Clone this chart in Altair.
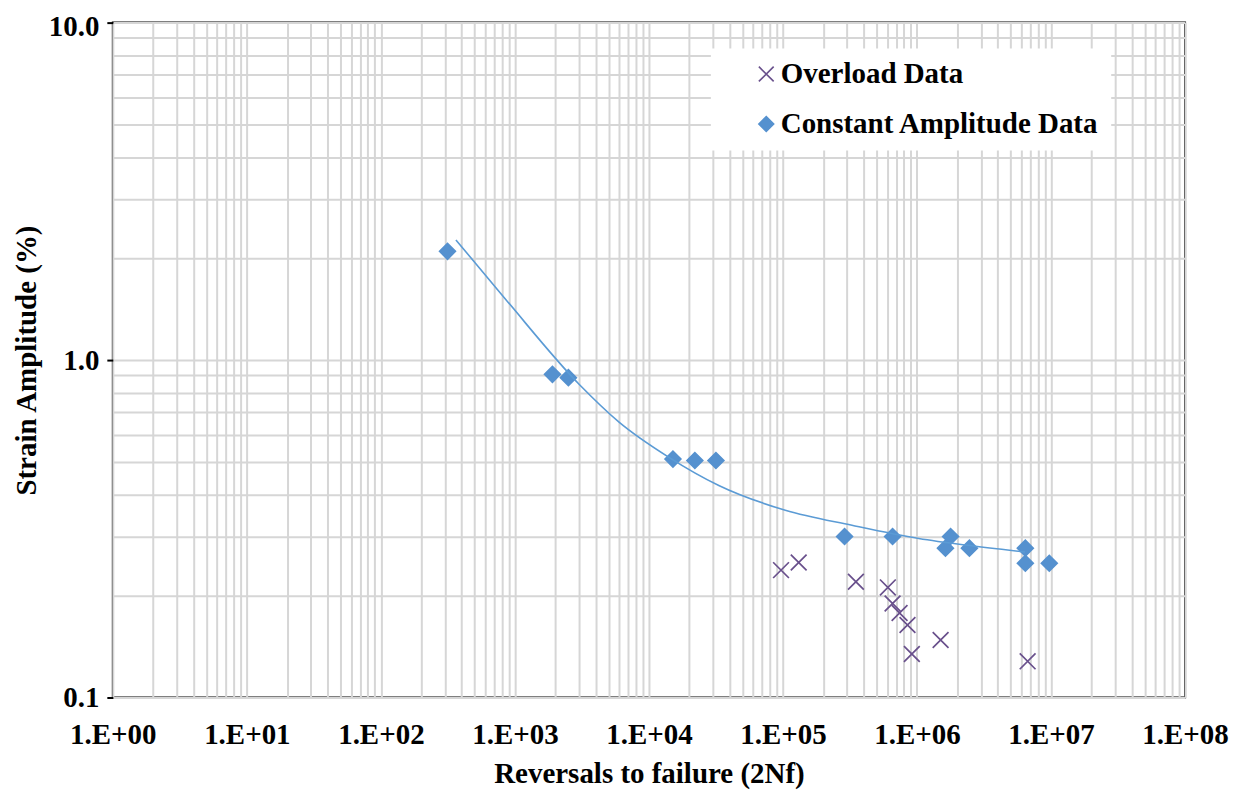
import altair as alt
import pandas as pd

# ---- data ----
ca_x = [314, 1905, 2506, 15100, 22000, 31600, 288000, 657000, 1780000,
        1630000, 2460000, 6430000, 6430000, 9700000]
ca_y = [2.10, 0.907, 0.887, 0.509, 0.504, 0.504, 0.300, 0.300, 0.300,
        0.277, 0.277, 0.277, 0.250, 0.250]

ol_x = [96700, 131000, 350000, 606000, 657000, 741000, 849000, 1500000,
        915000, 6690000]
ol_y = [0.2385, 0.2513, 0.2203, 0.212, 0.190, 0.178, 0.164, 0.148,
        0.1345, 0.128]

fit_x = [363, 857, 3010, 5980, 14100, 33200, 104000, 327000, 1030000,
         2290000, 6400000]
fit_y = [2.27, 1.51, 0.848, 0.655, 0.515, 0.425, 0.359, 0.324, 0.296,
         0.283, 0.270]

series_names = ["Overload Data", "Constant Amplitude Data"]
series_colors = ["#69508c", "#5591cf"]
series_shapes = ["M-1,-1L1,1M-1,1L1,-1", "diamond"]

mantissas = [1, 2, 3, 4, 5, 6, 7, 8, 9]
x_exponents = [0, 1, 2, 3, 4, 5, 6, 7]
y_exponents = [-1, 0]
x_grid = [m * 10 ** e for e in x_exponents for m in mantissas] + [10 ** 8]
y_grid = [round(m * 10.0 ** e, 3) for e in y_exponents for m in mantissas] + [10.0]

# ---- tables ----
pts = pd.DataFrame({
    "x": ol_x + ca_x,
    "y": ol_y + ca_y,
    "series": [series_names[0]] * len(ol_x) + [series_names[1]] * len(ca_x),
})
fit = pd.DataFrame({"x": fit_x, "y": fit_y})

FONT = "Liberation Serif"
FS = 29
major_test = "abs(log(datum.value)/LN10 - round(log(datum.value)/LN10)) < 0.001"

x_axis = alt.Axis(
    values=x_grid,
    labelExpr=f"{major_test} ? '1.E+' + (round(log(datum.value)/LN10) < 10 ? '0' : '') + round(log(datum.value)/LN10) : ''",
    ticks=False,
    labelPadding=23,
    labelOverlap=False,
    labelFlush=False,
    labelBound=False,
    domain=False,
    titleX=537,
    titleY=85,
    titleAlign="center",
    titleBaseline="alphabetic",
)
y_axis = alt.Axis(
    values=y_grid,
    labelExpr=f"{major_test} ? format(datum.value, '.1f') : ''",
    labelOffset={"condition": {"test": "datum.value > 9.5", "value": 4}, "value": 0},
    tickSize=6,
    tickColor="#000000",
    tickWidth=2,
    tickOpacity={"condition": {"test": major_test, "value": 1}, "value": 0},
    labelPadding=8,
    labelOverlap=False,
    labelFlush=False,
    labelBound=False,
    domain=False,
    titleX=-86,
    titleY=338,
    titleAngle=-90,
    titleAlign="center",
    titleBaseline="middle",
)

xs = alt.Scale(type="log", domain=[1, 1e8], nice=False)
ys = alt.Scale(type="log", domain=[0.1, 10], nice=False)

X = alt.X("x:Q", scale=xs, axis=x_axis, title="Reversals to failure (2Nf)")
Y = alt.Y("y:Q", scale=ys, axis=y_axis, title="Strain Amplitude (%)")

leg = alt.Legend(
    title=None,
    orient="none",
    legendX=599,
    legendY=26,
    fillColor="#ffffff",
    padding=11,
    symbolOffset=30,
    symbolSize=220,
    symbolStrokeWidth=1.6,
    labelFont=FONT,
    labelFontWeight="bold",
    labelFontSize=FS,
    labelColor="#000000",
    labelOffset=0,
    labelLimit=700,
    rowPadding=20,
)

points = alt.Chart(pts).mark_point(filled=True, size=250, strokeWidth=1.7, opacity=1).encode(
    x=X,
    y=Y,
    shape=alt.Shape("series:N", scale=alt.Scale(domain=series_names, range=series_shapes), legend=leg),
    fill=alt.Fill("series:N", scale=alt.Scale(domain=series_names, range=series_colors), legend=leg),
    stroke=alt.Stroke("series:N", scale=alt.Scale(domain=series_names, range=series_colors), legend=leg),
)

trend = alt.Chart(fit).mark_line(color="#5b9bd5", strokeWidth=1.6, interpolate="monotone").encode(
    x=X, y=Y
)

chart = alt.layer(points, trend).properties(
    width=1074,
    height=676,
    autosize="none",
    padding={"left": 105, "top": 14, "right": 46, "bottom": 95},
    background="#ffffff",
).configure_view(
    stroke="#000000", strokeWidth=2
).configure_axis(
    grid=True,
    gridColor="#d6d6d6",
    gridWidth=2,
    labelFont=FONT,
    labelFontWeight="bold",
    labelFontSize=FS,
    labelColor="#000000",
    titleFont=FONT,
    titleFontWeight="bold",
    titleFontSize=FS,
    titleColor="#000000",
)

chart.save("out.html", embed_options={"renderer": "svg", "actions": False})
